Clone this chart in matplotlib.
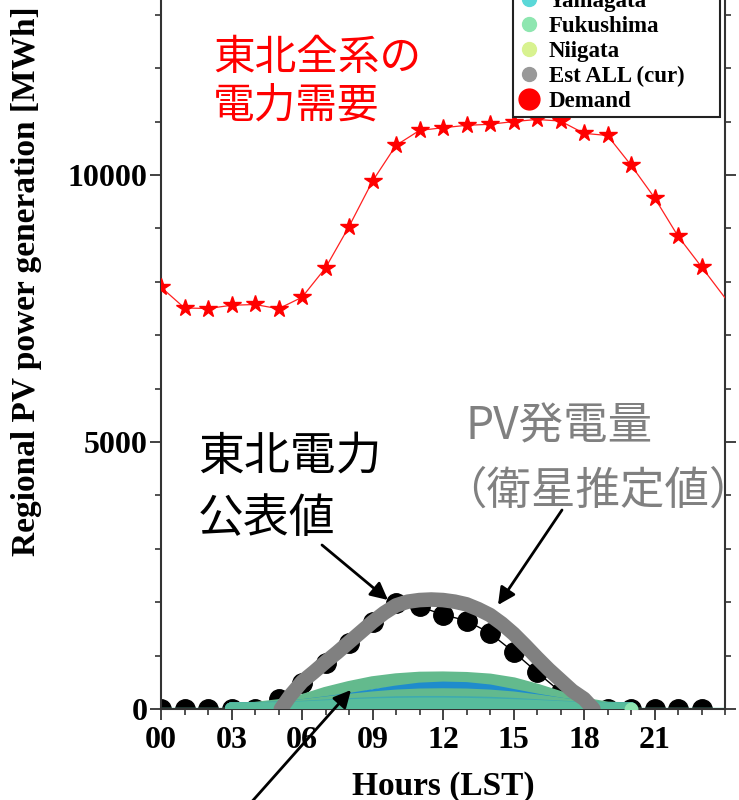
import numpy as np
import matplotlib
matplotlib.use("Agg")
import matplotlib.pyplot as plt
from matplotlib.lines import Line2D
from matplotlib.patches import FancyArrowPatch
from matplotlib.ticker import FixedLocator, MultipleLocator

# 東北全系の電力需要 (hourly, the last point sits on the right edge)
demand_hours = list(range(25))
demand = [7900, 7510, 7500, 7560, 7575, 7495, 7710, 8260, 9035, 9885,
          10555, 10835, 10885, 10930, 10950, 11000, 11040, 11010, 10780, 10740,
          10185, 9575, 8855, 8280, 7700]

# 東北電力公表値 (hourly)
tohoku_hours = list(range(24))
tohoku_pv = [0, 0, 0, 0, 0, 190, 495, 865, 1240, 1630,
             1980, 1920, 1765, 1655, 1420, 1070, 690, 320, 30, 0,
             0, 0, 0, 0]

# Est ALL (cur), satellite estimate
est_hours = [5.1, 5.5, 6.0, 6.5, 7.0, 7.5, 8.0, 8.5, 9.0, 9.5, 10.0, 10.5, 11.0,
             11.5, 12.0, 12.5, 13.0, 13.5, 14.0, 14.5, 15.0, 15.5, 16.0, 16.5,
             17.0, 17.5, 18.0, 18.4]
est_all = [0, 250, 510, 690, 880, 1060, 1250, 1440, 1630, 1800, 1940, 2010, 2040,
           2050, 2040, 2010, 1960, 1870, 1760, 1600, 1410, 1190, 960, 740,
           540, 340, 190, 0]

# prefectures, hourly 03..20
pref_hours = list(range(3, 21))
aomori = [0, 0, 0, 5, 15, 25, 35, 40, 45, 45, 40, 35, 25, 15, 8, 0, 0, 0]
iwate = [0, 0, 5, 15, 30, 45, 55, 65, 70, 70, 65, 55, 45, 30, 15, 5, 0, 0]
miyagi = [0, 0, 20, 60, 115, 175, 245, 315, 370, 390, 380, 335, 250, 165, 90, 30, 0, 0]
akita = [0, 0, 10, 30, 55, 80, 100, 115, 120, 120, 115, 105, 85, 60, 35, 10, 0, 0]
yamagata = [0, 0, 5, 20, 40, 60, 75, 85, 90, 90, 85, 75, 60, 45, 25, 5, 0, 0]
fukushima = [0, 10, 60, 150, 290, 400, 490, 545, 575, 580, 570, 540, 470, 350, 210, 90, 15, 0]
niigata = [0, 0, 20, 60, 110, 160, 205, 240, 260, 265, 260, 240, 205, 150, 90, 30, 0, 0]

legend_names = ['Aomori', 'Iwate', 'Miyagi', 'Akita', 'Yamagata', 'Fukushima', 'Niigata',
                'Est ALL (cur)', 'Demand']
legend_colors = ['#3b6fd0', '#3a9be0', '#3cc0e8', '#48d0e0', '#5ad8d8', '#8ee6b0', '#d8f290',
                 '#999999', '#ff0000']

xtick_labels = ['00', '03', '06', '09', '12', '15', '18', '21']

W, H = 739, 800
fig = plt.figure(figsize=(W / 100, H / 100), dpi=100)
ax = fig.add_axes([161 / W, 1 - 709 / H, (725 - 161) / W, 0.9345])

serif = 'Liberation Serif'
cjk = ['Noto Sans CJK JP', 'DejaVu Sans']


def fx(px):
    return px / W


def fy(py):
    return 1 - py / H


# demand
ax.plot(demand_hours, demand, '-', color='#ff2020', lw=0.9, zorder=3)
ax.plot(demand_hours, demand, '*', color='#ff0000', ms=13, markevery=slice(0, 24), zorder=3)

# published values
ax.plot(tohoku_hours, tohoku_pv, '-', color='k', lw=1.0, zorder=2)
ax.plot(tohoku_hours, tohoku_pv, 'o', color='k', ms=14, zorder=2)

# prefectures (thick bands), thin strip along zero
ax.plot([0, 24], [0, 0], color='#7fe3c6', lw=2.5, zorder=2, solid_capstyle='butt')
bands = [(aomori, '#3f8fc0'), (iwate, '#4aa6b8'), (fukushima, '#63ba8d'),
         (miyagi, '#1f8ccc'), (niigata, '#62b98e'), (akita, '#3eaab0'),
         (yamagata, '#57bc9c')]
for vals, col in bands:
    ax.plot(pref_hours, vals, color=col, lw=9.5, solid_capstyle='round',
            solid_joinstyle='round', zorder=4)
ax.plot([20], [0], 'o', color='#8ee6b0', ms=9, zorder=4)

# satellite estimate (gray band)
ax.plot(est_hours, est_all, color='#808080', lw=10.5, solid_capstyle='round',
        solid_joinstyle='round', zorder=5)

ax.set_xlim(0, 24)
ax.set_ylim(0, 14000)
ax.xaxis.set_major_locator(FixedLocator(range(0, 22, 3)))
ax.set_xticklabels(xtick_labels)
ax.xaxis.set_minor_locator(MultipleLocator(1))
ax.yaxis.set_major_locator(FixedLocator([0, 5000, 10000]))
ax.yaxis.set_minor_locator(MultipleLocator(1000))
ax.tick_params(axis='both', which='major', direction='out', length=8, width=1.3,
               labelsize=23, color='#333333')
ax.tick_params(axis='both', which='minor', direction='out', length=4.5, width=1.2,
               color='#333333')
ax.tick_params(axis='y', which='both', right=True)
ax.tick_params(axis='x', which='major', pad=4)
ax.tick_params(axis='y', which='major', pad=1.5)
for lab in ax.get_xticklabels() + ax.get_yticklabels():
    lab.set_family(serif)
    lab.set_fontweight('bold')
for s in ax.spines.values():
    s.set_linewidth(1.5)
    s.set_color('#333333')

fig.text(27 / W, 1 - 556 / H, 'Regional PV power generation [MWh]', rotation=90,
         ha='center', va='bottom', family=serif, weight='bold', fontsize=24)
fig.text(443 / W, 1 - 786 / H, 'Hours (LST)', ha='center', va='center',
         family=serif, weight='bold', fontsize=24)

# legend (upper part falls outside the picture)
handles = []
for name, col in zip(legend_names, legend_colors):
    ms = 15 if name == 'Demand' else 10
    handles.append(Line2D([], [], ls='none', marker='o', color=col, ms=ms))
leg = fig.legend(handles, legend_names, loc='lower left', mode='expand',
                 bbox_to_anchor=(fx(513), fy(117), (720 - 513) / W, 0.01),
                 bbox_transform=fig.transFigure,
                 prop={'family': serif, 'weight': 'bold', 'size': 16.5},
                 frameon=True, fancybox=False, framealpha=1, edgecolor='#222222',
                 labelspacing=0.18, handletextpad=0.35, handlelength=1.0,
                 borderpad=0.2, borderaxespad=0)
leg.get_frame().set_linewidth(1.5)

# annotations
fig.text(fx(213), fy(38), '東北全系の\n電力需要', color='#ff0000', family=cjk,
         fontsize=30, ha='left', va='top', linespacing=1.22)
fig.text(fx(198), fy(432), '東北電力\n公表値', color='k', family=cjk,
         fontsize=33, ha='left', va='top', linespacing=1.36)
fig.text(fx(465), fy(403), 'PV発電量', color='#808080', family=cjk,
         fontsize=32, ha='left', va='top')
fig.text(fx(442), fy(468), '（衛星推定値）', color='#808080', family=cjk,
         fontsize=32, ha='left', va='top')

arrow = dict(arrowstyle='-|>', mutation_scale=26, lw=2, color='k', shrinkA=0, shrinkB=0)
for tail, head in [((322, 545), (388, 600)), ((562, 510), (498, 605)),
                   ((240, 815), (351, 690))]:
    fig.add_artist(FancyArrowPatch((fx(tail[0]), fy(tail[1])), (fx(head[0]), fy(head[1])),
                                   transform=fig.transFigure, zorder=10, **arrow))

fig.savefig('out.png', dpi=100)
